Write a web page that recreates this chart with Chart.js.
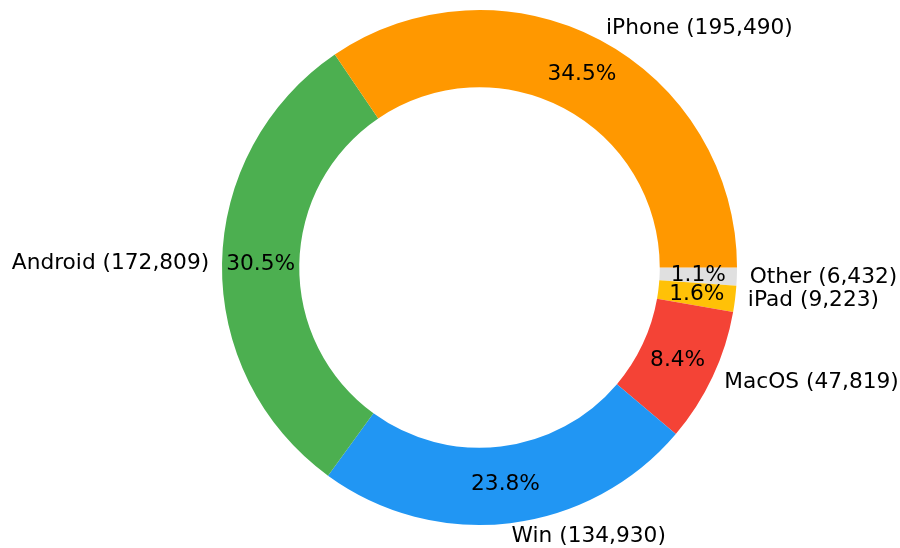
<!DOCTYPE html>
<html>
<head>
<meta charset="utf-8">
<script src="https://cdn.jsdelivr.net/npm/chart.js@4"></script>
<style>
  html, body { margin: 0; padding: 0; background: #fff; }
  #wrap { width: 900px; height: 548px; }
</style>
</head>
<body>
<div id="wrap"><canvas id="chart"></canvas></div>
<script>
// device share, counter-clockwise from 3 o'clock
const labels = ['iPhone', 'Android', 'Win', 'MacOS', 'iPad', 'Other'];
const counts = [195490, 172809, 134930, 47819, 9223, 6432];
const colors = ['#FF9800', '#4CAF50', '#2196F3', '#F44336', '#FFC107', '#E0E0E0'];

// Chart.js goes clockwise, so feed it reversed
const rLabels = labels.slice().reverse();
const rCounts = counts.slice().reverse();
const rColors = colors.slice().reverse();
const total = counts.reduce((a, b) => a + b, 0);

const FONT = '21.7px "DejaVu Sans", sans-serif';

const labelPlugin = {
  id: 'pieLabels',
  afterDatasetsDraw(chart) {
    const ctx = chart.ctx;
    const meta = chart.getDatasetMeta(0);
    ctx.save();
    ctx.font = FONT;
    ctx.fillStyle = '#000';
    ctx.textBaseline = 'middle';
    meta.data.forEach((arc, i) => {
      const p = arc.getProps(['x', 'y', 'startAngle', 'endAngle', 'outerRadius'], true);
      const mid = (p.startAngle + p.endAngle) / 2;
      const c = Math.cos(mid), s = Math.sin(mid);
      // outer text
      const lr = p.outerRadius * 1.05;
      ctx.textAlign = c > 0 ? 'left' : 'right';
      const txt = rLabels[i] + ' (' + rCounts[i].toLocaleString('en-US') + ')';
      ctx.fillText(txt, p.x + lr * c, p.y + lr * s);
      // percentage
      const pr = p.outerRadius * 0.85;
      ctx.textAlign = 'center';
      const pct = (rCounts[i] / total * 100).toFixed(1) + '%';
      ctx.fillText(pct, p.x + pr * c, p.y + pr * s);
    });
    ctx.restore();
  }
};

new Chart(document.getElementById('chart'), {
  type: 'doughnut',
  data: {
    labels: rLabels,
    datasets: [{
      data: rCounts,
      backgroundColor: rColors,
      borderWidth: 0
    }]
  },
  options: {
    responsive: true,
    maintainAspectRatio: false,
    animation: false,
    rotation: 90,
    cutout: '70%',
    layout: { padding: { left: 222, right: 163, top: 10, bottom: 23 } },
    plugins: {
      legend: { display: false },
      tooltip: { enabled: false }
    }
  },
  plugins: [labelPlugin]
});
</script>
</body>
</html>
